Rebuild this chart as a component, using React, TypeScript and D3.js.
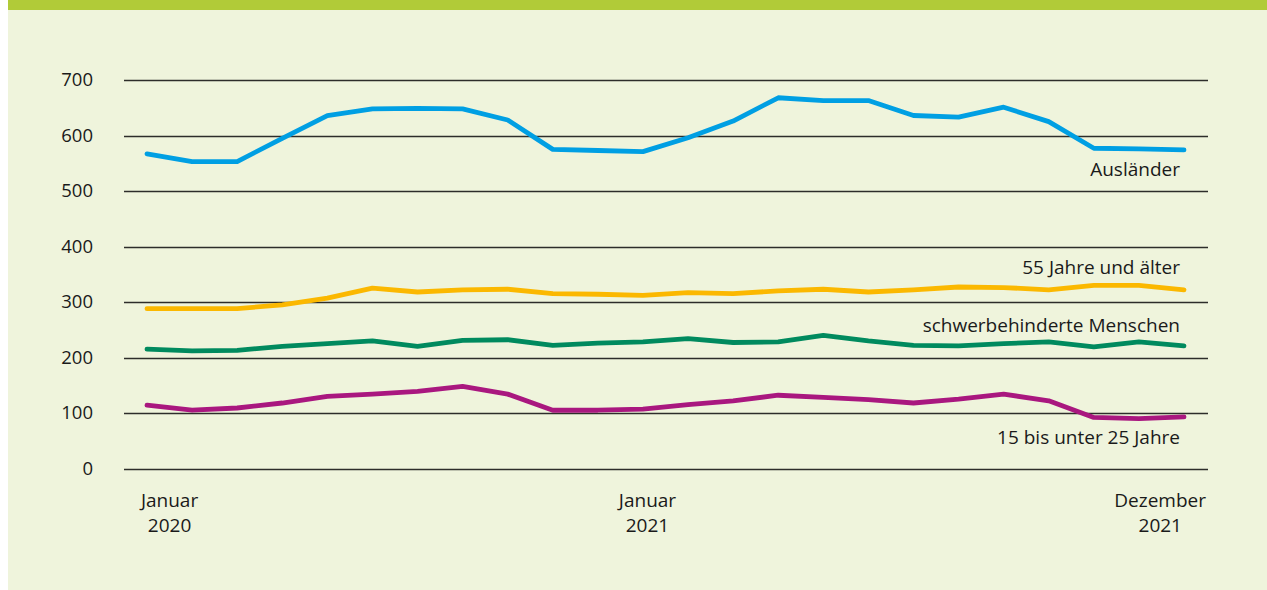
import React, { useEffect, useRef } from 'react';
import * as d3 from 'd3';

// Monthly values, Januar 2020 .. Dezember 2021
const months = d3.range(24);

const auslaender = [567, 553, 553, 595, 636, 648, 649, 648, 628, 575, 573, 571,
  596, 626, 668, 663, 663, 636, 633, 651, 625, 577, 576, 574];
const ab55 = [288, 288, 288, 295, 307, 325, 318, 322, 323, 315, 314, 312,
  317, 315, 320, 323, 318, 322, 327, 326, 322, 330, 330, 322];
const schwerbehindert = [215, 212, 213, 220, 225, 230, 220, 231, 232, 222, 226, 228,
  234, 227, 228, 240, 230, 222, 221, 225, 228, 219, 228, 221];
const jung = [114, 105, 109, 118, 130, 134, 139, 148, 134, 105, 105, 107,
  115, 122, 132, 128, 124, 118, 125, 134, 122, 92, 90, 93];

const seriesNames = ['Ausländer', '55 Jahre und älter', 'schwerbehinderte Menschen', '15 bis unter 25 Jahre'];
const seriesColors = ['#009fe3', '#fbb800', '#008a5e', '#a9177f'];
const yTicks = [0, 100, 200, 300, 400, 500, 600, 700];

const App = () => {
  const ref = useRef<SVGSVGElement>(null);

  useEffect(() => {
    const svg = d3.select(ref.current);
    svg.selectAll('*').remove();

    const width = 1267;
    const height = 590;
    const font = '"Open Sans", sans-serif';
    const fs = 19;

    // background panel and top band
    svg.append('rect').attr('x', 8).attr('y', 0).attr('width', width - 8).attr('height', height).attr('fill', '#eff4dc');
    svg.append('rect').attr('x', 8).attr('y', 0).attr('width', width - 8).attr('height', 10).attr('fill', '#b1cb38');

    const x = d3.scaleLinear().domain([0, 23]).range([147, 1184]);
    const y = d3.scaleLinear().domain([0, 700]).range([468.5, 80]);

    const grid = svg.append('g');
    grid.selectAll('line')
      .data(yTicks)
      .enter()
      .append('line')
      .attr('x1', 124)
      .attr('x2', 1208)
      .attr('y1', d => Math.round(y(d)) + 0.5)
      .attr('y2', d => Math.round(y(d)) + 0.5)
      .attr('stroke', '#2d2d2a')
      .attr('stroke-width', 1.3);

    grid.selectAll('text')
      .data(yTicks)
      .enter()
      .append('text')
      .attr('x', 93)
      .attr('y', d => y(d))
      .attr('dy', '0.35em')
      .attr('text-anchor', 'end')
      .attr('font-family', font)
      .attr('font-size', 18.5)
      .attr('fill', '#1a1a1a')
      .text(d => d);

    const all = [auslaender, ab55, schwerbehindert, jung];

    all.forEach((vals, s) => {
      const path = d3.line<number>()
        .x(i => x(i))
        .y(i => y(vals[i]));
      svg.append('path')
        .datum(months)
        .attr('d', path)
        .attr('fill', 'none')
        .attr('stroke', seriesColors[s])
        .attr('stroke-width', 4.8)
        .attr('stroke-linejoin', 'round')
        .attr('stroke-linecap', 'round');
    });

    // series labels, right aligned at line end
    const labelY = [169, 267, 325, 437];
    svg.selectAll('.lbl')
      .data(seriesNames)
      .enter()
      .append('text')
      .attr('class', 'lbl')
      .attr('x', 1180)
      .attr('y', (d, i) => labelY[i])
      .attr('dy', '0.35em')
      .attr('text-anchor', 'end')
      .attr('font-family', font)
      .attr('font-size', fs)
      .attr('fill', '#1a1a1a')
      .text(d => d);

    // x axis labels
    const xLabels = [
      { lines: ['Januar', '2020'], pos: x(0.5) },
      { lines: ['Januar', '2021'], pos: x(11.1) },
    ];
    xLabels.forEach(l => {
      l.lines.forEach((t, j) => {
        svg.append('text')
          .attr('x', l.pos)
          .attr('y', 500 + j * 25)
          .attr('dy', '0.35em')
          .attr('text-anchor', 'middle')
          .attr('font-family', font)
          .attr('font-size', fs)
          .attr('fill', '#1a1a1a')
          .text(t);
      });
    });
    svg.append('text')
      .attr('x', x(23) + 22)
      .attr('y', 500)
      .attr('dy', '0.35em')
      .attr('text-anchor', 'end')
      .attr('font-family', font)
      .attr('font-size', fs)
      .attr('fill', '#1a1a1a')
      .text('Dezember');
    svg.append('text')
      .attr('x', x(23) - 2)
      .attr('y', 525)
      .attr('dy', '0.35em')
      .attr('text-anchor', 'end')
      .attr('font-family', font)
      .attr('font-size', fs)
      .attr('fill', '#1a1a1a')
      .text('2021');
  }, []);

  return <svg ref={ref} width="1267" height="590" style={{ position: 'absolute', left: 0, top: 0 }}></svg>;
};

export default App;
